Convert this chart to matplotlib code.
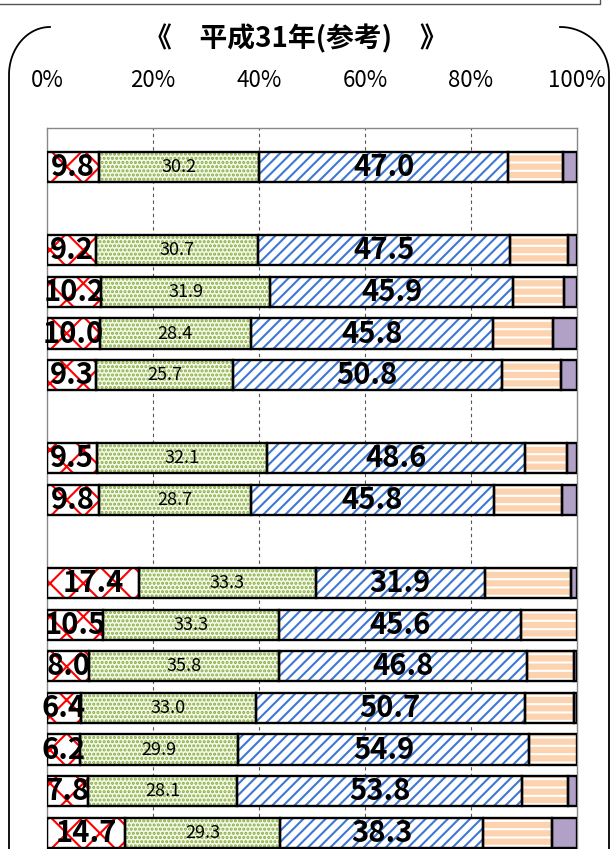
import numpy as np
import matplotlib
matplotlib.use("Agg")
import matplotlib.pyplot as plt

# 構成比（%）: 行ごとの各区分
row_slots = [0, 2, 3, 4, 5, 7, 8, 10, 11, 12, 13, 14, 15, 16]
red_vals = [9.8, 9.2, 10.2, 10.0, 9.3, 9.5, 9.8, 17.4, 10.5, 8.0, 6.4, 6.2, 7.8, 14.7]
green_vals = [30.2, 30.7, 31.9, 28.4, 25.7, 32.1, 28.7, 33.3, 33.3, 35.8, 33.0, 29.9, 28.1, 29.3]
blue_vals = [47.0, 47.5, 45.9, 45.8, 50.8, 48.6, 45.8, 31.9, 45.6, 46.8, 50.7, 54.9, 53.8, 38.3]
orange_vals = [10.3, 10.9, 9.6, 11.2, 11.1, 7.9, 12.9, 16.2, 10.6, 8.8, 9.3, 9.0, 8.6, 13.0]
purple_vals = [2.7, 1.7, 2.4, 4.6, 3.1, 1.9, 2.8, 1.2, 0.0, 0.6, 0.6, 0.0, 1.7, 4.7]
tick_vals = [0, 20, 40, 60, 80, 100]
tick_labels = ["0%", "20%", "40%", "60%", "80%", "100%"]
title_text = "《\u3000平成31年(参考)\u3000》"

JP_FONT = ["Noto Sans CJK JP", "DejaVu Sans"]

plt.rcParams["hatch.linewidth"] = 1.5

W, H = 614, 849
fig = plt.figure(figsize=(W / 100, H / 100), dpi=100)

# frame lines drawn in pixel coordinates on a background axes
bg = fig.add_axes([0, 0, 1, 1])
bg.set_xlim(0, W)
bg.set_ylim(H, 0)
bg.axis("off")
bg.plot([0, 600, 600], [4, 4, 0], color="#555555", lw=1.0)
t = np.linspace(0, np.pi / 2, 60)
# left rounded corner + side
lx = 50 - 41 * np.sin(t)
ly = 75 - 48 * np.cos(t)
bg.plot(np.r_[lx, 9], np.r_[ly, H], color="black", lw=1.3)
# right rounded corner + side
rx = 560 + 49 * np.sin(t)
ry = 75 - 48 * np.cos(t)
bg.plot(np.r_[rx, 609], np.r_[ry, H], color="black", lw=1.3)
bg.text(296, 39, title_text, ha="center", va="center", fontsize=20,
        fontweight="bold", family=JP_FONT)

# main chart
slot_px = 41.6
y_top = -0.94
y_bot = 16.6
ax_h = (y_bot - y_top) * slot_px / H
ax_top = 1 - 128 / H
ax = fig.add_axes([47 / W, ax_top - ax_h, 530 / W, ax_h])
ax.set_xlim(0, 100)
ax.set_ylim(y_bot, y_top)

y = np.array(row_slots, dtype=float)
bar_h = 0.73

segments = [
    (red_vals, "white", "#ff0000", "x"),
    (green_vals, "#f4f9ea", "#86ac3e", "...."),
    (blue_vals, "white", "#3f78d4", "///"),
    (orange_vals, "#fcd3ae", "white", "--"),
    (purple_vals, "#b2a1c7", "#b2a1c7", None),
]

left = np.zeros(len(y))
for vals, face, hcol, hatch in segments:
    vals = np.array(vals)
    mask = vals > 0
    ax.barh(y[mask], vals[mask], left=left[mask], height=bar_h, color=face,
            edgecolor=hcol, linewidth=0, hatch=hatch, zorder=2)
    ax.barh(y[mask], vals[mask], left=left[mask], height=bar_h, fill=False,
            edgecolor="black", linewidth=1.7, zorder=3)
    left = left + vals

# value labels
left = np.zeros(len(y))
for vals, size, weight in [(red_vals, 21, "bold"),
                           (green_vals, 13, "normal"),
                           (blue_vals, 21, "bold")]:
    for yy, l, v in zip(y, left, vals):
        ax.text(l + v / 2, yy, f"{v:.1f}", ha="center", va="center",
                fontsize=size, fontweight=weight, family=JP_FONT,
                color="black", zorder=4)
    left = left + np.array(vals)

# grid and axes styling
for gx in tick_vals[1:-1]:
    ax.axvline(gx, color="#555555", lw=0.8, ls=(0, (3, 3)), zorder=1)
ax.set_xticks(tick_vals)
ax.set_xticklabels(tick_labels, fontsize=16, family=JP_FONT)
ax.xaxis.tick_top()
ax.tick_params(axis="x", length=0, pad=26)
ax.set_yticks([])
for side in ["top", "left", "right"]:
    ax.spines[side].set_color("#888888")
    ax.spines[side].set_linewidth(1.0)
ax.spines["bottom"].set_visible(False)

fig.savefig("out.png", dpi=100)
